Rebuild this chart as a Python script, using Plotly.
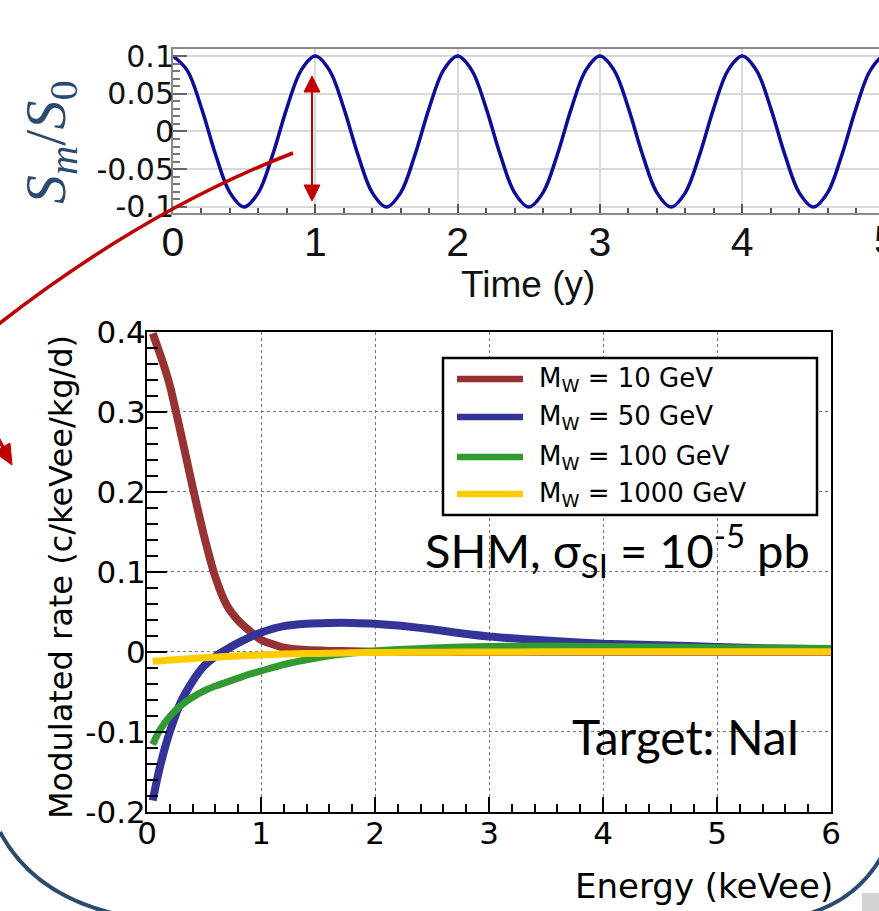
import plotly.graph_objects as go

W, H = 879, 911


def X(px):
    return px / W


def Y(py):
    return 1 - py / H


def P(pts):
    return " ".join(f"{c} {X(a):.5f},{Y(b):.5f}" if c else f"{X(a):.5f},{Y(b):.5f}" for c, a, b in pts)


# ---------------- data: top panel (annual modulation) ----------------
time_y = [0.0, 0.1, 0.2, 0.3, 0.4, 0.5, 0.6, 0.7, 0.8, 0.9,
          1.0, 1.1, 1.2, 1.3, 1.4, 1.5, 1.6, 1.7, 1.8, 1.9,
          2.0, 2.1, 2.2, 2.3, 2.4, 2.5, 2.6, 2.7, 2.8, 2.9,
          3.0, 3.1, 3.2, 3.3, 3.4, 3.5, 3.6, 3.7, 3.8, 3.9,
          4.0, 4.1, 4.2, 4.3, 4.4, 4.5, 4.6, 4.7, 4.8, 4.9,
          5.0, 5.1, 5.2]
sm_ratio = [0.1, 0.081, 0.031, -0.031, -0.081, -0.1, -0.081, -0.031, 0.031, 0.081,
            0.1, 0.081, 0.031, -0.031, -0.081, -0.1, -0.081, -0.031, 0.031, 0.081,
            0.1, 0.081, 0.031, -0.031, -0.081, -0.1, -0.081, -0.031, 0.031, 0.081,
            0.1, 0.081, 0.031, -0.031, -0.081, -0.1, -0.081, -0.031, 0.031, 0.081,
            0.1, 0.081, 0.031, -0.031, -0.081, -0.1, -0.081, -0.031, 0.031, 0.081,
            0.1, 0.081, 0.031]
top_yticks = [0.1, 0.05, 0, -0.05, -0.1]
top_ytext = ["0.1", "0.05", "0", "-0.05", "-0.1"]
top_xticks = [0, 1, 2, 3, 4]

# ---------------- data: bottom panel (modulated rate) ----------------
energy = [0.05, 0.1, 0.15, 0.2, 0.3, 0.4, 0.5, 0.6, 0.7, 0.8, 0.9, 1.0,
          1.2, 1.4, 1.6, 1.8, 2.0, 2.25, 2.5, 2.75, 3.0, 3.5, 4.0, 4.5,
          5.0, 5.5, 6.0]
rate_10 = [0.398, 0.378, 0.357, 0.333, 0.271, 0.206, 0.145, 0.093, 0.058, 0.039,
           0.026, 0.015, 0.005, 0.002, 0.001, 0.0005, 0.0, 0.0, 0.0, 0.0,
           0.0, 0.0, 0.0, 0.0, 0.0, 0.0, 0.0]
rate_50 = [-0.186, -0.152, -0.124, -0.100, -0.062, -0.037, -0.018, -0.006, 0.003, 0.011,
           0.018, 0.024, 0.032, 0.035, 0.036, 0.036, 0.035, 0.032, 0.028, 0.023,
           0.019, 0.014, 0.010, 0.008, 0.006, 0.004, 0.003]
rate_100 = [-0.116, -0.101, -0.090, -0.081, -0.067, -0.057, -0.049, -0.043, -0.038, -0.033,
            -0.028, -0.024, -0.016, -0.010, -0.005, -0.0015, 0.001, 0.003, 0.0045, 0.006,
            0.0065, 0.007, 0.0065, 0.006, 0.005, 0.0045, 0.004]
rate_1000 = [-0.012, -0.0115, -0.011, -0.0105, -0.0095, -0.0085, -0.0075, -0.0068, -0.006, -0.0054,
             -0.0047, -0.004, -0.003, -0.0024, -0.0018, -0.0013, -0.001, -0.0008, -0.0006, -0.0005,
             -0.0004, -0.0002, 0.0, 0.0, 0.0, 0.0, 0.0]
series_names = ["M<sub>W</sub> = 10 GeV", "M<sub>W</sub> = 50 GeV",
                "M<sub>W</sub> = 100 GeV", "M<sub>W</sub> = 1000 GeV"]
series_values = [rate_10, rate_50, rate_100, rate_1000]
series_colors = ["#983232", "#333399", "#339933", "#ffcc00"]
series_widths = [8, 8, 7, 7]
bot_yticks = [0.4, 0.3, 0.2, 0.1, 0, -0.1, -0.2]
bot_ytext = ["0.4", "0.3", "0.2", "0.1", "0", "-0.1", "-0.2"]
bot_xticks = [0, 1, 2, 3, 4, 5, 6]

fig = go.Figure()

fig.add_trace(go.Scatter(x=time_y, y=sm_ratio, mode="lines", xaxis="x", yaxis="y",
                         line=dict(color="#0c0c9a", width=3.5, shape="spline", smoothing=1.0),
                         showlegend=False, hoverinfo="skip"))

for name, vals, col, wd in zip(series_names, series_values, series_colors, series_widths):
    fig.add_trace(go.Scatter(x=energy, y=vals, mode="lines", name=name, xaxis="x2", yaxis="y2",
                             line=dict(color=col, width=wd, shape="spline", smoothing=0.6),
                             showlegend=False, hoverinfo="skip"))

top_grey = "#8a8a8a"
fig.update_layout(
    width=W, height=H, margin=dict(l=0, r=0, t=0, b=0, pad=0), autosize=False,
    paper_bgcolor="white", plot_bgcolor="white", showlegend=False,
    font=dict(family="DejaVu Sans", color="black"),
    xaxis=dict(domain=[X(173), 1.0], range=[0, 4.961], anchor="y", automargin=False,
               tickmode="array", tickvals=top_xticks, ticktext=[str(v) for v in top_xticks],
               tickfont=dict(family="Liberation Sans", size=41, color="#111"),
               ticks="inside", ticklen=9, tickwidth=1.5, tickcolor="#555",
               minor=dict(ticks="inside", ticklen=5, tickcolor="#555", tickmode="linear", tick0=0, dtick=0.2, showgrid=False),
               showgrid=True, gridcolor="#d9d9d9", gridwidth=1.5, zeroline=False,
               showline=True, linecolor=top_grey, linewidth=2, mirror=True, ticklabelstandoff=-8),
    yaxis=dict(domain=[Y(213), Y(49)], range=[-0.108, 0.1093], anchor="x", automargin=False,
               tickmode="array", tickvals=top_yticks, ticktext=top_ytext,
               tickfont=dict(family="DejaVu Sans", size=30, color="#111"),
               ticks="inside", ticklen=14, tickwidth=1.5, tickcolor="#666",
               minor=dict(ticks="inside", ticklen=7, tickcolor="#777", tickmode="linear", tick0=0, dtick=0.01, showgrid=False),
               showgrid=True, gridcolor="#d9d9d9", gridwidth=1.5, zeroline=False,
               showline=True, linecolor=top_grey, linewidth=2, mirror=False, ticklabelstandoff=-9),
    xaxis2=dict(domain=[X(147), X(831)], range=[0, 6], anchor="y2", automargin=False,
                tickmode="array", tickvals=bot_xticks, ticktext=[str(v) for v in bot_xticks],
                tickfont=dict(family="DejaVu Sans", size=31, color="black"),
                ticks="inside", ticklen=15, tickwidth=2, tickcolor="black",
                minor=dict(ticks="inside", ticklen=8, tickcolor="black", tickwidth=2, tickmode="linear", tick0=0, dtick=0.2, showgrid=False),
                showgrid=True, gridcolor="#777", gridwidth=1, griddash="dot", zeroline=False,
                showline=True, linecolor="black", linewidth=2, mirror=True, ticklabelstandoff=-7),
    yaxis2=dict(domain=[Y(811.7), Y(331.7)], range=[-0.2, 0.4], anchor="x2", automargin=False,
                tickmode="array", tickvals=bot_yticks, ticktext=bot_ytext,
                tickfont=dict(family="DejaVu Sans", size=31, color="black"),
                ticks="inside", ticklen=20, tickwidth=2, tickcolor="black",
                minor=dict(ticks="inside", ticklen=11, tickcolor="black", tickwidth=2, tickmode="linear", tick0=0, dtick=0.02, showgrid=False),
                showgrid=True, gridcolor="#777", gridwidth=1, griddash="dot", zeroline=False,
                showline=True, linecolor="black", linewidth=2, mirror=True, ticklabelstandoff=-7),
)

shapes = []
ann = []

# legend box (built from series)
shapes.append(dict(type="rect", xref="paper", yref="paper", x0=X(443), x1=X(817), y0=Y(515), y1=Y(358),
                   line=dict(color="black", width=2.5), fillcolor="white", layer="above"))
leg_y = [379, 417, 457, 494]
for name, col, yy in zip(series_names, series_colors, leg_y):
    shapes.append(dict(type="line", xref="paper", yref="paper", x0=X(457), x1=X(523), y0=Y(yy), y1=Y(yy),
                       line=dict(color=col, width=6.5), layer="above"))
    ann.append(dict(text=name, xref="paper", yref="paper", x=X(537), y=Y(yy), xanchor="left", yanchor="middle",
                    showarrow=False, font=dict(family="DejaVu Sans", size=26, color="black")))

# vertical double arrow on the top panel
arrow_red = "#c00000"
shapes.append(dict(type="line", xref="paper", yref="paper", x0=X(312), x1=X(312), y0=Y(88), y1=Y(189),
                   line=dict(color=arrow_red, width=2)))
shapes.append(dict(type="path", xref="paper", yref="paper",
                   path=P([("M", 312, 76), ("L", 304, 92), ("L", 320, 92)]) + " Z",
                   fillcolor=arrow_red, line=dict(color=arrow_red, width=1)))
shapes.append(dict(type="path", xref="paper", yref="paper",
                   path=P([("M", 312, 201), ("L", 304, 185), ("L", 320, 185)]) + " Z",
                   fillcolor=arrow_red, line=dict(color=arrow_red, width=1)))

# curved red pointer arrow
shapes.append(dict(type="path", xref="paper", yref="paper",
                   path=P([("M", 293, 153), ("Q", 145.5, 210), ("", 0, 323),
                           ("C", -47, 360), ("", -8, 428), ("", 4, 449)]),
                   line=dict(color=arrow_red, width=3.5)))
shapes.append(dict(type="path", xref="paper", yref="paper",
                   path=P([("M", 12, 465), ("L", -6, 452), ("L", 10, 443)]) + " Z",
                   fillcolor=arrow_red, line=dict(color=arrow_red, width=1)))

# rounded callout outline (bottom corners)
callout = "#2b4a6f"
shapes.append(dict(type="rect", xref="paper", yref="paper", x0=X(862), x1=X(879), y0=Y(911), y1=Y(893),
                   fillcolor="#d4d4d4", line=dict(width=0)))
shapes.append(dict(type="path", xref="paper", yref="paper",
                   path=P([("M", 0, 832), ("Q", 35, 898), ("", 125, 916)]),
                   line=dict(color=callout, width=4)))
shapes.append(dict(type="path", xref="paper", yref="paper",
                   path=P([("M", 884, 852), ("Q", 858, 902), ("", 800, 916)]),
                   line=dict(color=callout, width=4)))

# axis titles and labels
ann.append(dict(text="Time (y)", xref="paper", yref="paper", x=X(528), y=Y(284), xanchor="center", yanchor="middle",
                showarrow=False, font=dict(family="Liberation Sans", size=37, color="#111")))
ann.append(dict(text="5", xref="paper", yref="paper", x=X(885), y=Y(240), xanchor="center", yanchor="middle",
                showarrow=False, font=dict(family="Liberation Sans", size=41, color="#111")))
ann.append(dict(text="<i>S</i><sub><i>m</i></sub>/<i>S</i><sub>0</sub>", xref="paper", yref="paper",
                x=X(50), y=Y(142), xanchor="center", yanchor="middle", textangle=-90,
                showarrow=False, font=dict(family="Liberation Serif", size=58, color=callout)))
ann.append(dict(text="Energy (keVee)", xref="paper", yref="paper", x=X(835), y=Y(886), xanchor="right", yanchor="middle",
                showarrow=False, font=dict(family="DejaVu Sans", size=34, color="black")))
ann.append(dict(text="Modulated rate (c/keVee/kg/d)", xref="paper", yref="paper", x=X(61), y=Y(577),
                xanchor="center", yanchor="middle", textangle=-90,
                showarrow=False, font=dict(family="DejaVu Sans", size=32, color="black")))
ann.append(dict(text="SHM, σ<sub>SI</sub> = 10<sup>-5</sup> pb", xref="paper", yref="paper", x=X(812), y=Y(550),
                xanchor="right", yanchor="middle", showarrow=False,
                font=dict(family="Lato", size=47, color="black")))
ann.append(dict(text="Target: NaI", xref="paper", yref="paper", x=X(802), y=Y(736),
                xanchor="right", yanchor="middle", showarrow=False,
                font=dict(family="Lato", size=48, color="black")))

fig.update_layout(shapes=shapes, annotations=ann)
fig.write_html("out.html", config={"displayModeBar": False})
